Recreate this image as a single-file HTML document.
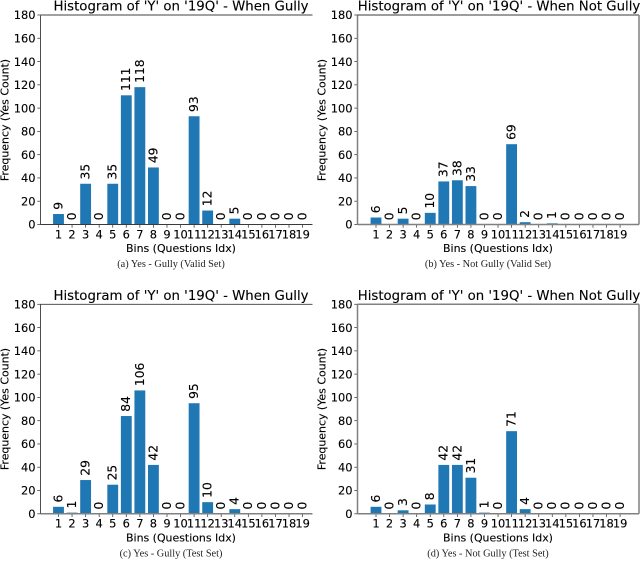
<!DOCTYPE html>
<html>
<head>
<meta charset="utf-8">
<style>
html,body{margin:0;padding:0;background:#fff;}
svg{display:block;}
text{font-family:"DejaVu Sans",sans-serif;fill:#000;stroke:#000;stroke-width:0.12px;}
.cap{font-family:"Liberation Serif",serif;font-size:10.3px;fill:#222;stroke:none;text-anchor:middle;}
.title{font-size:13.3px;text-anchor:middle;}
.axl{font-size:10.95px;text-anchor:middle;}
.tk{font-size:11.4px;}
.val{font-size:12.3px;}
</style>
</head>
<body>
<svg id="fig" width="640" height="575" viewBox="0 0 640 575" xmlns="http://www.w3.org/2000/svg">
  <g id="p-a">
    <text class="title" x="181" y="10.5">Histogram of 'Y' on '19Q' - When Gully</text>
    <text class="axl" transform="translate(8.5,120) rotate(-90)">Frequency (Yes Count)</text>
    <text class="axl" x="181" y="252">Bins (Questions Idx)</text>
    <text class="cap" x="171" y="267">(a) Yes - Gully (Valid Set)</text>
  </g>
  <g id="p-b">
    <text class="title" x="499" y="10.5">Histogram of 'Y' on '19Q' - When Not Gully</text>
    <text class="axl" transform="translate(325.5,120) rotate(-90)">Frequency (Yes Count)</text>
    <text class="axl" x="498" y="252">Bins (Questions Idx)</text>
    <text class="cap" x="488" y="267">(b) Yes - Not Gully (Valid Set)</text>
  </g>
  <g id="p-c">
    <text class="title" x="181" y="299.8">Histogram of 'Y' on '19Q' - When Gully</text>
    <text class="axl" transform="translate(8.5,409) rotate(-90)">Frequency (Yes Count)</text>
    <text class="axl" x="181" y="541.5">Bins (Questions Idx)</text>
    <text class="cap" x="171" y="556.5">(c) Yes - Gully (Test Set)</text>
  </g>
  <g id="p-d">
    <text class="title" x="499" y="299.8">Histogram of 'Y' on '19Q' - When Not Gully</text>
    <text class="axl" transform="translate(325.5,409) rotate(-90)">Frequency (Yes Count)</text>
    <text class="axl" x="498" y="541.5">Bins (Questions Idx)</text>
    <text class="cap" x="488" y="556.5">(d) Yes - Not Gully (Test Set)</text>
  </g>
</svg>
<script>
const categories = [1,2,3,4,5,6,7,8,9,10,11,12,13,14,15,16,17,18,19];
const yTickLabels = [0,20,40,60,80,100,120,140,160,180];
const gullyValid = [9,0,35,0,35,111,118,49,0,0,93,12,0,5,0,0,0,0,0];
const notGullyValid = [6,0,5,0,10,37,38,33,0,0,69,2,0,1,0,0,0,0,0];
const gullyTest = [6,1,29,0,25,84,106,42,0,0,95,10,0,4,0,0,0,0,0];
const notGullyTest = [6,0,3,0,8,42,42,31,1,0,71,4,0,0,0,0,0,0,0];

const NS = 'http://www.w3.org/2000/svg';
const yMax = 180;
const THIN = {stroke: '#3a3a3a', width: 0.9};
const THICK = {stroke: '#808080', width: 1.5};

function make(tag, attrs, parent) {
  const el = document.createElementNS(NS, tag);
  for (const k in attrs) el.setAttribute(k, attrs[k]);
  parent.appendChild(el);
  return el;
}

function drawPanel(id, values, left, right, top, bottom, firstX, styles) {
  const g = document.getElementById(id);
  const step = 13.56;
  const xScale = function (c) { return firstX + (c - 1) * step; };
  const yScale = function (v) { return bottom - v * (bottom - top) / yMax; };
  const barW = step * 0.8;

  values.forEach(function (v, i) {
    const c = categories[i];
    const bar = make('rect', {x: xScale(c) - barW / 2, y: yScale(v), width: barW, height: bottom - yScale(v), fill: '#1f77b4'}, g);
    
    
    const lx = xScale(c);
    const ly = yScale(v) - 4.3;
    const lab = make('text', {class: 'val', transform: 'translate(' + (lx + 3.9) + ',' + ly + ') rotate(-90)'}, g);
    lab.textContent = String(v);
    
    
  });

  yTickLabels.forEach(function (t) {
    const y = yScale(t);
    const tick = make('line', {x1: left - 3.2, x2: left, y1: y, y2: y, stroke: '#444', 'stroke-width': 0.8}, g);
    
    
    const lab = make('text', {class: 'tk', x: left - 5, y: y + 4.2, 'text-anchor': 'end'}, g);
    lab.textContent = String(t);
    
    
  });

  categories.forEach(function (c) {
    const x = xScale(c);
    const tick = make('line', {x1: x, x2: x, y1: bottom, y2: bottom + 3.2, stroke: '#444', 'stroke-width': 0.8}, g);
    
    
    const lab = make('text', {class: 'tk', x: x, y: bottom + 13.8, 'text-anchor': 'middle'}, g);
    lab.textContent = String(c);
    
    
  });

  const spines = [
    ['left-spine', left, top, left, bottom, styles.left],
    ['bottom-spine', left, bottom, right, bottom, styles.bottom],
    ['top-spine', left, top, right, top, styles.top]
  ];
  if (styles.right) spines.push(['right-spine', right, top, right, bottom, styles.right]);
  spines.forEach(function (s) {
    const ln = make('line', {x1: s[1], y1: s[2], x2: s[3], y2: s[4], stroke: s[5].stroke, 'stroke-width': s[5].width}, g);
    
    
  });
}

drawPanel('p-a', gullyValid, 40.5, 312.5, 15, 224.5, 58.5, {left: THIN, bottom: THIN, top: THICK});
drawPanel('p-b', notGullyValid, 357.5, 639, 15, 224.5, 376, {left: THICK, bottom: THICK, top: THIN, right: THICK});
drawPanel('p-c', gullyTest, 40.5, 312.5, 304.3, 513.8, 58.5, {left: THIN, bottom: THICK, top: THIN});
drawPanel('p-d', notGullyTest, 357.5, 639, 304.3, 513.8, 376, {left: THICK, bottom: THICK, top: THICK, right: THICK});
</script>
</body>
</html>
